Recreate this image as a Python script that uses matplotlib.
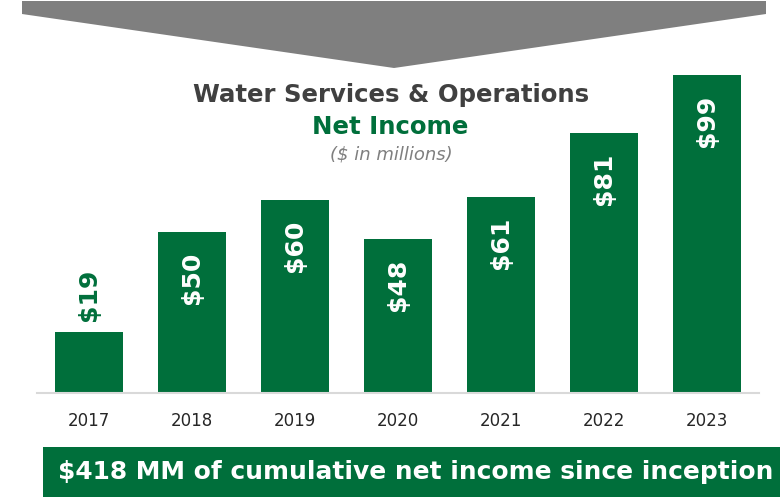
import matplotlib
matplotlib.use("Agg")
import matplotlib.pyplot as plt
from matplotlib.patches import Polygon, Rectangle

years = ["2017", "2018", "2019", "2020", "2021", "2022", "2023"]
net_income = [19, 50, 60, 48, 61, 81, 99]
value_labels = ["$19", "$50", "$60", "$48", "$61", "$81", "$99"]

GREEN = "#006f3b"
GREY = "#7f7f7f"
W, H = 780, 501

plt.rcParams["font.family"] = ["DejaVu Sans"]

fig = plt.figure(figsize=(W / 100, H / 100), dpi=100)


def px(x, y):
    # pixel position (from top-left) -> figure fraction
    return x / W, 1 - y / H


# grey chevron across the top
chevron = Polygon([px(22, 1), px(766, 1), px(766, 14), px(394, 68), px(22, 14)],
                  closed=True, transform=fig.transFigure, facecolor=GREY,
                  edgecolor="none")
fig.patches.append(chevron)

ax = fig.add_axes([37.5 / W, 108 / H, 721 / W, 321 / H])
xs = range(len(years))
ax.bar(xs, net_income, width=0.66, color=GREEN, zorder=2)
ax.set_xlim(-0.5, len(years) - 0.5)
ax.set_ylim(0, 100)

for s in ["top", "left", "right"]:
    ax.spines[s].set_visible(False)
ax.spines["bottom"].set_color("#d9d9d9")
ax.spines["bottom"].set_linewidth(1.5)
ax.set_yticks([])
ax.set_xticks(list(xs))
ax.set_xticklabels(years, fontsize=12, color="#262626")
ax.tick_params(axis="x", length=0, pad=14)

for i, (v, lab) in enumerate(zip(net_income, value_labels)):
    if v < 30:
        # short bar: label sits above it
        ax.annotate(lab, (i, v), xytext=(0, 8), textcoords="offset points",
                    rotation=90, ha="center", va="bottom", fontsize=18,
                    fontweight="bold", color=GREEN)
    else:
        ax.annotate(lab, (i, v), xytext=(0, -14), textcoords="offset points",
                    rotation=90, ha="center", va="top", fontsize=18,
                    fontweight="bold", color="white")

# heading block
fig.text(*px(391, 95), "Water Services & Operations", ha="center", va="center",
         fontsize=17.6, fontweight="bold", color="#404040")
fig.text(*px(390, 127), "Net Income", ha="center", va="center",
         fontsize=17.6, fontweight="bold", color=GREEN)
fig.text(*px(391, 155), "($ in millions)", ha="center", va="center",
         fontsize=13, style="italic", color=GREY)

# summary banner
banner = Rectangle(px(43, 497), (W - 43) / W, 50 / H, transform=fig.transFigure,
                   facecolor=GREEN, edgecolor="none")
fig.patches.append(banner)
fig.text(*px(416, 472), "$418 MM of cumulative net income since inception",
         ha="center", va="center", fontsize=17.9, fontweight="bold", color="white")

fig.savefig("out.png", dpi=100)
